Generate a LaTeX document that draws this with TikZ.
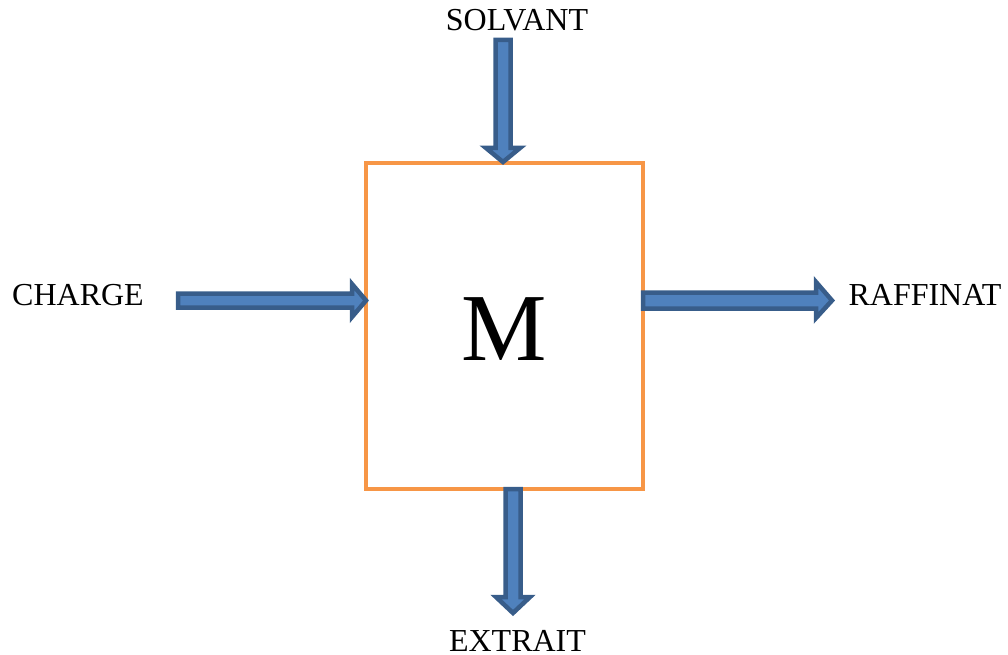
\documentclass[tikz,border=0pt]{standalone}
\usepackage{fontspec}
\setmainfont{Liberation Serif}
\definecolor{boxorange}{HTML}{F79646}
\definecolor{arrfill}{HTML}{4F81BD}
\definecolor{arrdraw}{HTML}{385D8A}
\begin{document}
\begin{tikzpicture}[x=1pt,y=-1pt,
  blockarrow/.style={fill=arrfill,draw=arrdraw,line width=4.5pt,line join=miter},
  lbl/.style={anchor=base,inner sep=0pt,font=\fontsize{32}{32}\selectfont}]
\useasboundingbox (0,0) rectangle (1008,655);
% main box
\draw[boxorange,line width=3.5pt] (366,163) rectangle (643,489);
\coordinate (box) at (504.5,326);
\node[anchor=base,inner sep=0pt,font=\fontsize{96}{96}\selectfont] (M) at (504.5,360) {M};
% labels
\node[lbl] (solvant) at (517,31) {SOLVANT};
\node[lbl] (charge) at (78,305) {CHARGE};
\node[lbl] (raffinat) at (925,305) {RAFFINAT};
\node[lbl] (extrait) at (517.5,651) {EXTRAIT};
% arrows
\draw[blockarrow] (495.5,40) -- (510.5,40) -- (510.5,148) -- (520,148) -- (503,162) -- (486,148) -- (495.5,148) -- cycle;
\draw[blockarrow] (178,293.5) -- (352,293.5) -- (352,284) -- (366,300.5) -- (352,317) -- (352,307.5) -- (178,307.5) -- cycle;
\draw[blockarrow] (643,292.5) -- (816,292.5) -- (816,282) -- (832,300.5) -- (816,318) -- (816,308.5) -- (643,308.5) -- cycle;
\draw[blockarrow] (505.5,489) -- (520.5,489) -- (520.5,597) -- (530,597) -- (513,613) -- (496,597) -- (505.5,597) -- cycle;
\end{tikzpicture}
\end{document}
